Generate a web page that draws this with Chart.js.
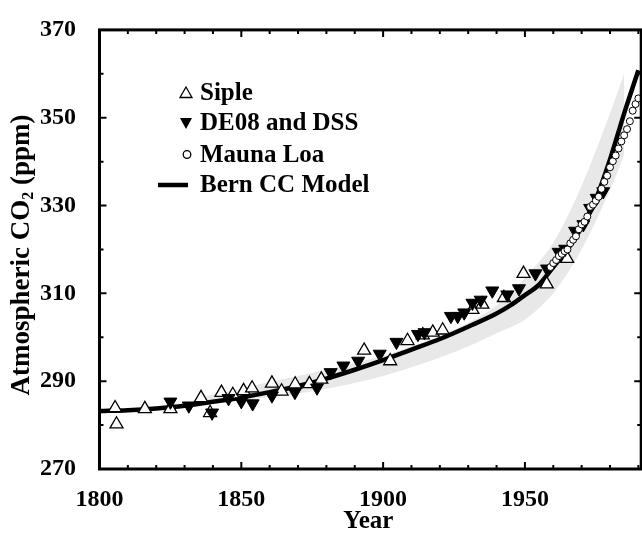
<!DOCTYPE html>
<html>
<head>
<meta charset="utf-8">
<script src="https://cdn.jsdelivr.net/npm/chart.js@4.4.1/dist/chart.umd.min.js"></script>
<style>
  html, body { margin: 0; padding: 0; background: #fff; overflow: hidden; }
  #wrap { width: 650px; height: 535px; }
</style>
</head>
<body>
<div id="wrap"><canvas id="co2"></canvas></div>
<script>
// tick values
const xTickLabels = [1800, 1850, 1900, 1950];
const xMinorTicks = [1810, 1820, 1830, 1840, 1860, 1870, 1880, 1890, 1910, 1920, 1930, 1940, 1960, 1970, 1980, 1990];
const yTickLabels = [270, 290, 310, 330, 350, 370];
const yMinorTicks = [280, 300, 320, 340, 360];

// Siple ice core
const sipleYears = [1805.5, 1806, 1816, 1825, 1835.8, 1839, 1843, 1847, 1850.8, 1853.8, 1860.8, 1864.2, 1869, 1874, 1878.2,
  1893.3, 1902.5, 1908.6, 1914, 1917.5, 1921, 1931.5, 1935, 1942.6, 1949.5, 1957.7, 1964.9];
const siplePpm = [283.9, 280.2, 283.7, 283.7, 286.2, 282.8, 287.4, 286.9, 287.8, 288.4, 289.5, 287.7, 289.3, 289.4, 290.4,
  297.0, 294.6, 299.2, 300.5, 301.1, 301.6, 306.3, 307.5, 309.0, 314.5, 312.1, 317.9];

// DE08 and DSS (Law Dome)
const de08Years = [1825, 1831.5, 1839.7, 1845.5, 1850, 1854, 1860.8, 1868.9, 1876.7, 1881.5, 1886, 1891.2, 1898.8, 1904.7,
  1912.3, 1914.6, 1923.9, 1926.3, 1928.6, 1931.5, 1934.4, 1938.5, 1943.8, 1947.9, 1953.7, 1957.8, 1961.9, 1964.2,
  1967.7, 1970.6, 1973, 1975.3, 1977.6];
const de08Ppm = [285.3, 284.4, 282.8, 286.1, 285.4, 284.9, 286.7, 287.5, 288.5, 292.0, 293.5, 294.6, 296.2, 298.9,
  300.7, 301.1, 304.8, 304.8, 305.6, 307.8, 308.5, 310.6, 309.7, 311.1, 314.5, 315.6, 319.4, 320.1,
  324.2, 325.7, 329.4, 331.7, 333.2];

// Mauna Loa
const mlYears = [1959, 1960, 1961, 1962, 1963, 1964, 1965, 1966, 1967, 1968, 1969, 1970, 1971, 1972, 1973, 1974,
  1975, 1976, 1977, 1978, 1979, 1980, 1981, 1982, 1983, 1984, 1985, 1986, 1987, 1988, 1989, 1990];
const mlPpm = [316.0, 316.9, 317.6, 318.5, 319.0, 319.6, 320.0, 321.4, 322.2, 323.0, 324.6, 325.7, 326.3, 327.5, 329.7, 330.2,
  331.1, 332.0, 333.8, 335.4, 336.8, 338.7, 340.1, 341.4, 343.0, 344.6, 346.0, 347.4, 349.2, 351.6, 353.1, 354.4];

// Bern CC model
const bernYears = [1800, 1810, 1820, 1830, 1840, 1850, 1860, 1870, 1880, 1890, 1900, 1910, 1920, 1930, 1940, 1945,
  1950, 1955, 1960, 1965, 1970, 1975, 1980, 1985, 1990];
const bernPpm = [283.2, 283.4, 283.8, 284.4, 285.3, 286.3, 287.5, 288.9, 290.6, 292.6, 294.8, 297.2, 299.6, 302.4, 305.4, 307.3,
  309.6, 312.0, 316.0, 320.0, 325.0, 331.5, 340.5, 351.0, 360.8];

// model uncertainty band
const bandYears = [1828, 1840, 1850, 1860, 1870, 1880, 1890, 1900, 1910, 1920, 1930, 1940, 1950, 1960, 1970, 1980, 1985];
const bandUpper = [284.5, 287.0, 288.3, 289.8, 291.2, 292.6, 294.2, 295.8, 297.9, 300.3, 303.3, 307.2, 313.5, 321.5, 334.5, 351.0, 360.0];
const bandLower = [284.0, 285.0, 285.6, 286.4, 287.2, 288.3, 289.6, 291.2, 293.2, 295.4, 297.9, 300.9, 304.0, 310.0, 320.0, 333.5, 341.5];

const pts = (xs, ys) => xs.map((x, i) => ({ x: x, y: ys[i] }));
const serif = "'Liberation Serif', 'Times New Roman', serif";

const legendItems = [
  { label: 'Siple', kind: 'up' },
  { label: 'DE08 and DSS', kind: 'down' },
  { label: 'Mauna Loa', kind: 'circle' },
  { label: 'Bern CC Model', kind: 'line' }
];

const framePlugin = {
  id: 'frame',
  afterDatasetsDraw(chart) {
    const ctx = chart.ctx;
    const a = chart.chartArea;
    const xs = chart.scales.x;
    const ys = chart.scales.y;
    ctx.save();
    ctx.strokeStyle = '#000';
    ctx.lineWidth = 3;
    ctx.strokeRect(a.left, a.top, a.right - a.left, a.bottom - a.top);

    ctx.lineWidth = 2;
    ctx.beginPath();
    xTickLabels.concat(xMinorTicks).forEach(v => {
      const px = xs.getPixelForValue(v);
      const len = xTickLabels.includes(v) ? 7 : 4;
      ctx.moveTo(px, a.bottom); ctx.lineTo(px, a.bottom - len);
      ctx.moveTo(px, a.top); ctx.lineTo(px, a.top + len);
    });
    yTickLabels.concat(yMinorTicks).forEach(v => {
      const py = ys.getPixelForValue(v);
      const len = yTickLabels.includes(v) ? 7 : 4;
      ctx.moveTo(a.left, py); ctx.lineTo(a.left + len, py);
      ctx.moveTo(a.right, py); ctx.lineTo(a.right - len, py);
    });
    ctx.stroke();

    // legend
    ctx.font = 'bold 25px ' + serif;
    ctx.fillStyle = '#000';
    ctx.textBaseline = 'middle';
    ctx.textAlign = 'left';
    const rows = [93, 123, 154.5, 185];
    legendItems.forEach((item, i) => {
      const cy = rows[i];
      const cx = 186;
      ctx.beginPath();
      if (item.kind === 'up') {
        ctx.lineWidth = 1.3;
        ctx.moveTo(cx, cy - 6); ctx.lineTo(cx + 6, cy + 4.5); ctx.lineTo(cx - 6, cy + 4.5); ctx.closePath();
        ctx.stroke();
      } else if (item.kind === 'down') {
        ctx.moveTo(cx - 6, cy - 5); ctx.lineTo(cx + 6, cy - 5); ctx.lineTo(cx, cy + 6); ctx.closePath();
        ctx.fill();
      } else if (item.kind === 'circle') {
        ctx.lineWidth = 1.3;
        ctx.arc(cx + 1, cy, 3.8, 0, Math.PI * 2);
        ctx.stroke();
      } else {
        ctx.lineWidth = 4.5;
        ctx.moveTo(158, cy); ctx.lineTo(188, cy);
        ctx.stroke();
      }
      ctx.fillText(item.label, 200, cy + 1);
    });

    // axis titles
    ctx.font = 'bold 25px ' + serif;
    ctx.textAlign = 'center';
    ctx.fillText('Year', (a.left + a.right) / 2 - 2, 522);

    ctx.translate(22, 255);
    ctx.rotate(-Math.PI / 2);
    const big = 'bold 27px ' + serif;
    const small = 'bold 16px ' + serif;
    const p1 = 'Atmospheric CO';
    const p2 = '2';
    const p3 = ' (ppm)';
    ctx.font = big;
    const w1 = ctx.measureText(p1).width;
    const w3 = ctx.measureText(p3).width;
    ctx.font = small;
    const w2 = ctx.measureText(p2).width;
    let x0 = -(w1 + w2 + w3) / 2;
    ctx.textAlign = 'left';
    ctx.font = big;
    ctx.fillText(p1, x0, 0);
    ctx.font = small;
    ctx.fillText(p2, x0 + w1, 7);
    ctx.font = big;
    ctx.fillText(p3, x0 + w1 + w2, 0);
    ctx.restore();
  }
};

new Chart(document.getElementById('co2'), {
  type: 'scatter',
  data: {
    datasets: [
      {
        label: 'band upper',
        type: 'line',
        data: pts(bandYears, bandUpper),
        borderWidth: 0,
        pointRadius: 0,
        backgroundColor: '#e8e8e8',
        fill: '+1',
        tension: 0.3,
        order: 10
      },
      {
        label: 'band lower',
        type: 'line',
        data: pts(bandYears, bandLower),
        borderWidth: 0,
        pointRadius: 0,
        fill: false,
        tension: 0.3,
        order: 9
      },
      {
        label: 'Bern CC Model',
        type: 'line',
        data: pts(bernYears, bernPpm),
        borderColor: '#000',
        borderWidth: 4.5,
        pointRadius: 0,
        cubicInterpolationMode: 'monotone',
        fill: false,
        order: 5
      },
      {
        label: 'Siple',
        data: pts(sipleYears, siplePpm),
        pointStyle: 'triangle',
        pointRadius: 7.5,
        backgroundColor: '#fff',
        borderColor: '#000',
        borderWidth: 1.3,
        order: 4
      },
      {
        label: 'DE08 and DSS',
        data: pts(de08Years, de08Ppm),
        pointStyle: 'triangle',
        rotation: 180,
        pointRadius: 7.5,
        backgroundColor: '#000',
        borderColor: '#000',
        borderWidth: 1,
        order: 3
      },
      {
        label: 'Mauna Loa',
        data: pts(mlYears, mlPpm),
        pointStyle: 'circle',
        pointRadius: 3.5,
        backgroundColor: '#fff',
        borderColor: '#000',
        borderWidth: 1,
        order: 2
      }
    ]
  },
  options: {
    responsive: true,
    maintainAspectRatio: false,
    animation: false,
    layout: { padding: { left: 0, top: 22, right: 5.5, bottom: 0 } },
    plugins: {
      legend: { display: false },
      tooltip: { enabled: false }
    },
    scales: {
      x: {
        type: 'linear',
        min: 1800,
        max: 1991,
        grid: { display: false },
        border: { display: false },
        afterFit: s => { s.height = 66; },
        afterBuildTicks: s => { s.ticks = xTickLabels.map(v => ({ value: v })); },
        ticks: {
          color: '#000',
          padding: 8,
          maxRotation: 0,
          autoSkip: false,
          font: { family: serif, weight: 'bold', size: 24 },
          callback: v => String(v)
        }
      },
      y: {
        type: 'linear',
        min: 270,
        max: 370,
        grid: { display: false },
        border: { display: false },
        afterFit: s => { s.width = 99.5; },
        afterBuildTicks: s => { s.ticks = yTickLabels.map(v => ({ value: v })); },
        ticks: {
          color: '#000',
          padding: 15.5,
          font: { family: serif, weight: 'bold', size: 24 },
          callback: v => String(v)
        }
      }
    }
  },
  plugins: [framePlugin]
});
</script>
</body>
</html>
